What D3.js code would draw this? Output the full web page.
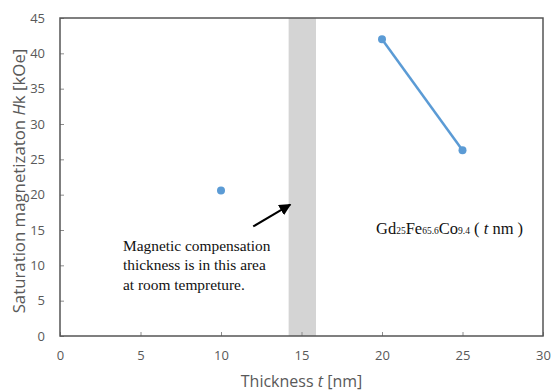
<!DOCTYPE html>
<html><head><meta charset="utf-8">
<script src="https://cdn.jsdelivr.net/npm/d3@7"></script>
<style>body{margin:0;background:#fff}</style>
</head><body>
<svg id="c" width="552" height="392"></svg>
<script>
const xTicks = [0,5,10,15,20,25,30];
const yTicks = [0,5,10,15,20,25,30,35,40,45];
const seriesA = [{t:10, hk:20.6}];
const seriesB = [{t:20, hk:42.0},{t:25, hk:26.3}];
const band = [14.2, 15.9];
const arrowFrom = [12.0, 15.5], arrowTo = [14.3, 18.6];

const svg = d3.select('#c');
const m = {l:60, r:9, t:18, b:56};
const W = 552, H = 392;
const x = d3.scaleLinear().domain([0,30]).range([m.l, W-m.r]);
const y = d3.scaleLinear().domain([0,45]).range([H-m.b, m.t]);
const axCol = '#595959';

svg.append('rect').attr('x', x(band[0])).attr('y', y(45)).attr('width', x(band[1])-x(band[0])).attr('height', y(0)-y(45)).attr('fill','#d4d4d4');

const xa = svg.append('g').attr('transform',`translate(0,${y(0)})`)
  .call(d3.axisBottom(x).tickValues(xTicks).tickSize(-4).tickPadding(15));
const ya = svg.append('g').attr('transform',`translate(${x(0)},0)`)
  .call(d3.axisLeft(y).tickValues(yTicks).tickSize(-4).tickPadding(15));
[xa,ya].forEach(a=>{
  a.selectAll('path').remove();
  a.selectAll('line').attr('stroke','#8c8c8c');
  a.selectAll('text').attr('fill',axCol).attr('font-family','Open Sans, sans-serif').attr('font-size',13);
});
xa.selectAll('text').attr('dy','0.71em');
svg.append('rect').attr('x',x(0)).attr('y',y(45)).attr('width',x(30)-x(0)).attr('height',y(0)-y(45))
  .attr('fill','none').attr('stroke','#555').attr('stroke-width',1.5);

const col = '#5b9bd5';
svg.append('path').datum(seriesB).attr('fill','none').attr('stroke',col).attr('stroke-width',2.5)
  .attr('d', d3.line().x(d=>x(d.t)).y(d=>y(d.hk)));
svg.selectAll('circle.p').data(seriesA.concat(seriesB)).join('circle')
  .attr('cx',d=>x(d.t)).attr('cy',d=>y(d.hk)).attr('r',4).attr('fill',col);

// arrow
svg.append('defs').append('marker').attr('id','ah').attr('viewBox','0 0 10 10').attr('refX',9).attr('refY',5)
  .attr('markerWidth',6).attr('markerHeight',6).attr('orient','auto')
  .append('path').attr('d','M0,0L10,5L0,10z').attr('fill','#000');
svg.append('line').attr('x1',x(arrowFrom[0])).attr('y1',y(arrowFrom[1])).attr('x2',x(arrowTo[0])).attr('y2',y(arrowTo[1]))
  .attr('stroke','#000').attr('stroke-width',2).attr('marker-end','url(#ah)');

const note = ['Magnetic compensation','thickness is in this area','at room tempreture.'];
svg.append('g').selectAll('text').data(note).join('text')
  .attr('x',123).attr('y',(d,i)=>251+i*19.3).text(d=>d)
  .attr('font-family','Liberation Serif, serif').attr('font-size',15.4).attr('fill','#111');

const f = svg.append('text').attr('x',376).attr('y',234).attr('font-family','Liberation Serif, serif').attr('font-size',16.5).attr('fill','#111');
const parts = [['Gd',0],['25',1],['Fe',0],['65.6',1],['Co',0],['9.4',1],[' ( ',0],['t',2],[' nm )',0]];
parts.forEach(([s,k])=>{
  const ts = f.append('tspan').text(s);
  if(k===1) ts.attr('font-size',9.5);
  if(k===2) ts.attr('font-style','italic');
});

// axis titles
const xt = svg.append('text').attr('x',(x(0)+x(30))/2).attr('y',387).attr('text-anchor','middle')
  .attr('font-family','Open Sans, sans-serif').attr('font-size',16).attr('fill',axCol);
xt.append('tspan').text('Thickness ');
xt.append('tspan').text('t').attr('font-style','italic');
xt.append('tspan').text(' [nm]');
const yt = svg.append('text').attr('transform',`translate(25,181) rotate(-90)`).attr('text-anchor','middle')
  .attr('font-family','Open Sans, sans-serif').attr('font-size',16.8).attr('fill',axCol);
yt.append('tspan').text('Saturation magnetizaton ');
yt.append('tspan').text('H').attr('font-style','italic');
yt.append('tspan').text('k [kOe]');
</script>
</body></html>
